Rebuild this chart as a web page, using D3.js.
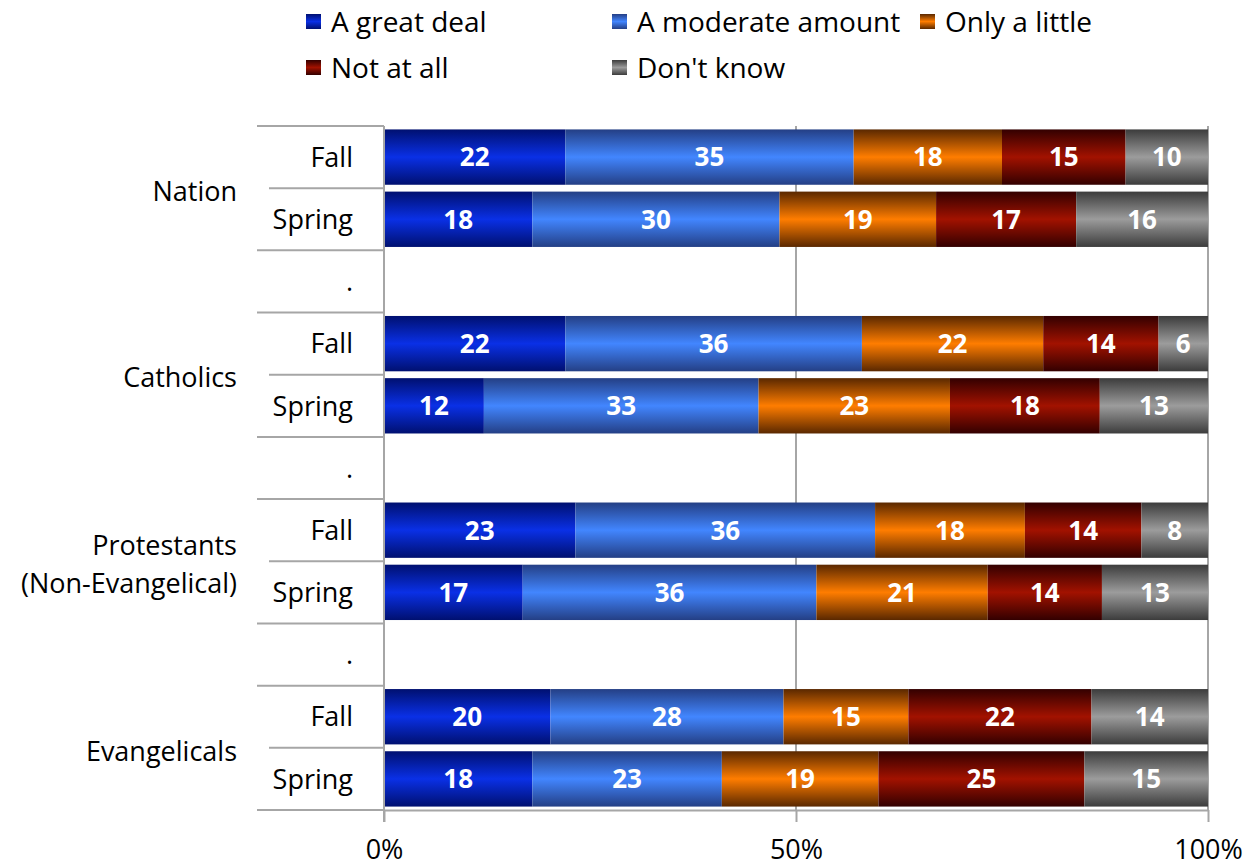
<!DOCTYPE html>
<html>
<head>
<meta charset="utf-8">
<script src="https://cdn.jsdelivr.net/npm/d3@7"></script>
<style>
  body { margin: 0; background: #fff; }
  text { font-family: "Open Sans", sans-serif; }
</style>
</head>
<body>
<div id="chart"></div>
<script>
var groups = ['Nation', 'Catholics', 'Protestants\n(Non-Evangelical)', 'Evangelicals'];
var seasons = ['Fall', 'Spring'];
var seriesNames = ['A great deal', 'A moderate amount', 'Only a little', 'Not at all', "Don't know"];
// one row per group/season, in order: Nation Fall, Nation Spring, Catholics Fall, ...
var greatDeal = [22, 18, 22, 12, 23, 17, 20, 18];
var moderate  = [35, 30, 36, 33, 36, 36, 28, 23];
var little    = [18, 19, 22, 23, 18, 21, 15, 19];
var notAtAll  = [15, 17, 14, 18, 14, 14, 22, 25];
var dontKnow  = [10, 16, 6, 13, 8, 13, 14, 15];
var xTicks = [0, 0.5, 1];

var seriesValues = [greatDeal, moderate, little, notAtAll, dontKnow];
var colors = [
  {edge: '#001070', mid: '#0a30e6'},
  {edge: '#243f85', mid: '#4286ff'},
  {edge: '#5a2800', mid: '#ff7d00'},
  {edge: '#330000', mid: '#a21200'},
  {edge: '#3c3c3c', mid: '#9c9c9c'}
];

var width = 1251, height = 867;
var plotLeft = 384, plotRight = 1208, plotTop = 126, plotBottom = 810;

var svg = d3.select('#chart').append('svg')
  .attr('width', width)
  .attr('height', height);

var defs = svg.append('defs');
colors.forEach(function(c, i) {
  var g = defs.append('linearGradient')
    .attr('id', 'grad' + i)
    .attr('x1', 0).attr('y1', 0).attr('x2', 0).attr('y2', 1);
  g.append('stop').attr('offset', '0%').attr('stop-color', c.edge);
  g.append('stop').attr('offset', '50%').attr('stop-color', c.mid);
  g.append('stop').attr('offset', '100%').attr('stop-color', c.edge);
});

// slots: Fall, Spring, blank, Fall, Spring, blank ...
var slots = [];
var r = 0;
groups.forEach(function(g, gi) {
  if (gi > 0) slots.push({blank: true});
  seasons.forEach(function(s) {
    slots.push({group: g, season: s, row: r++});
  });
});

var y = d3.scaleBand()
  .domain(d3.range(slots.length))
  .range([plotTop, plotBottom])
  .paddingInner(0.11)
  .paddingOuter(0.055);

var step = y.step();

var x = d3.scaleLinear()
  .domain([0, 1])
  .range([plotLeft, plotRight]);

// gridlines
svg.append('g').selectAll('line')
  .data(xTicks.slice(1))
  .enter().append('line')
  .attr('x1', function(d) { return x(d); })
  .attr('x2', function(d) { return x(d); })
  .attr('y1', plotTop)
  .attr('y2', plotBottom)
  .style('stroke', '#a6a6a6')
  .style('stroke-width', 2);

// bars (100% stacked, each row normalised by its own total)
slots.forEach(function(s, si) {
  if (s.blank) return;
  var vals = seriesValues.map(function(arr) { return arr[s.row]; });
  var total = d3.sum(vals);
  var cum = 0;
  vals.forEach(function(v, k) {
    var x0 = cum / total, x1 = (cum + v) / total;
    cum += v;
    svg.append('rect')
      .attr('x', x(x0))
      .attr('y', y(si))
      .attr('width', x(x1) - x(x0))
      .attr('height', y.bandwidth())
      .style('fill', 'url(#grad' + k + ')');
    svg.append('text')
      .attr('x', (x(x0) + x(x1)) / 2)
      .attr('y', y(si) + y.bandwidth() / 2)
      .attr('dy', '0.36em')
      .attr('text-anchor', 'middle')
      .style('fill', '#fff')
      .style('font-weight', 'bold')
      .style('font-size', '26px')
      .text(v);
  });
});

// value axis
var xAxis = svg.append('g')
  .attr('transform', 'translate(0,' + plotBottom + ')')
  .call(d3.axisBottom(x).tickValues(xTicks).tickFormat(d3.format('.0%')).tickSize(12).tickSizeOuter(0));
xAxis.select('.domain').style('stroke', '#a6a6a6').style('stroke-width', 2);
xAxis.selectAll('.tick line').style('stroke', '#a6a6a6').style('stroke-width', 2);
xAxis.selectAll('.tick text')
  .attr('y', 30)
  .style('font-size', '27px')
  .style('fill', '#000')
  .style('font-family', '"Open Sans", sans-serif');

// category axis line
svg.append('line')
  .attr('x1', plotLeft).attr('x2', plotLeft)
  .attr('y1', plotTop).attr('y2', plotBottom + 12)
  .style('stroke', '#a6a6a6')
  .style('stroke-width', 2);

// category separators
d3.range(slots.length + 1).forEach(function(i) {
  var inner = i > 0 && i < slots.length && !slots[i - 1].blank && !slots[i].blank &&
    slots[i - 1].group === slots[i].group;
  svg.append('line')
    .attr('x1', inner ? 269 : 257)
    .attr('x2', plotLeft)
    .attr('y1', plotTop + i * step)
    .attr('y2', plotTop + i * step)
    .style('stroke', '#a6a6a6')
    .style('stroke-width', 2);
});

// inner category labels
slots.forEach(function(s, i) {
  svg.append('text')
    .attr('x', 353)
    .attr('y', y(i) + y.bandwidth() / 2)
    .attr('dy', '0.36em')
    .attr('text-anchor', 'end')
    .style('font-size', '27px')
    .text(s.blank ? '.' : s.season);
});

// group labels
groups.forEach(function(g) {
  var idx = slots.map(function(s, i) { return s.group === g ? i : -1; }).filter(function(i) { return i >= 0; });
  var cy = (y(idx[0]) + y(idx[idx.length - 1]) + y.bandwidth()) / 2;
  var lines = g.split('\n');
  var t = svg.append('text')
    .attr('text-anchor', 'end')
    .style('font-size', '27px');
  lines.forEach(function(l, li) {
    t.append('tspan')
      .attr('x', 237)
      .attr('y', cy + 3 + (li - (lines.length - 1) / 2) * 38)
      .attr('dy', '0.36em')
      .text(l);
  });
});

// legend
var legendPos = [[306, 22], [612, 22], [920, 22], [306, 68], [612, 68]];
seriesNames.forEach(function(name, i) {
  var lg = svg.append('g')
    .attr('transform', 'translate(' + legendPos[i][0] + ',' + legendPos[i][1] + ')');
  lg.append('rect')
    .attr('x', 0).attr('y', -8)
    .attr('width', 15).attr('height', 15)
    .style('fill', 'url(#grad' + i + ')');
  lg.append('text')
    .attr('x', 25)
    .attr('y', 0)
    .attr('dy', '0.36em')
    .style('font-size', '28px')
    .text(name);
});
</script>
</body>
</html>
